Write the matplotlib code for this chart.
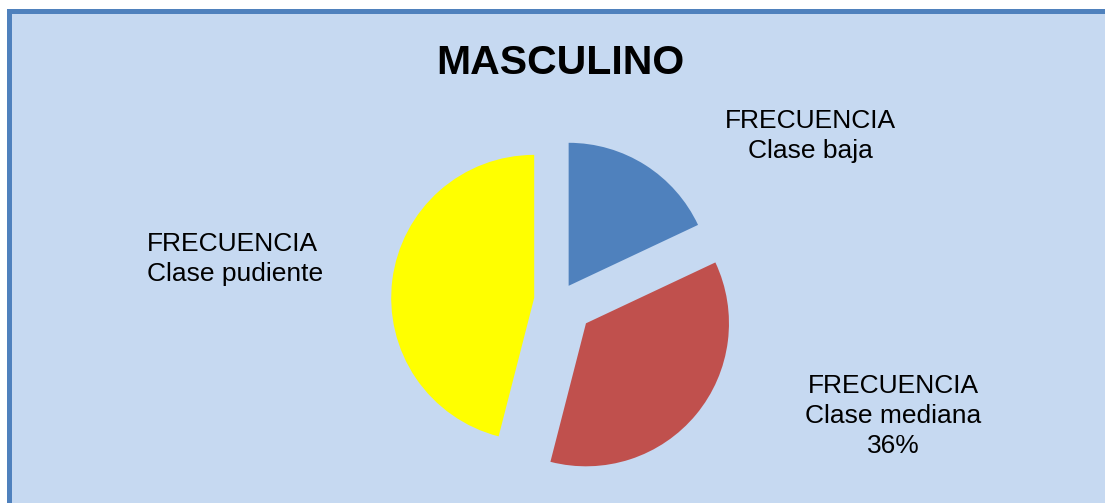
import matplotlib.pyplot as plt
from matplotlib.patches import Rectangle

# data
categories = ["Clase baja", "Clase mediana", "Clase pudiente"]
values = [18, 36, 46]
show_pct = [False, True, False]
colors = ["#4F81BD", "#C0504D", "#FFFF00"]
title = "MASCULINO"

W, H = 1105, 503
fig = plt.figure(figsize=(W / 100, H / 100), dpi=100)
fig.patch.set_facecolor("white")
ax = fig.add_axes([0, 0, 1, 1])
ax.set_xlim(0, W)
ax.set_ylim(0, H)
ax.set_aspect("equal")
ax.axis("off")

# chart area: light blue fill with a blue frame running off the right/bottom
ax.add_patch(Rectangle((8.5, -20), W + 40, H - 10.5 + 20, facecolor="#C6D9F1",
                       edgecolor="#4F81BD", linewidth=3.6, zorder=0))

ax.pie(values, colors=colors, startangle=90, counterclock=False,
       center=(559, 202), radius=143, explode=[18, 35, 25],
       wedgeprops=dict(linewidth=0))
ax.set_xlim(0, W)
ax.set_ylim(0, H)

ax.text(560, 440, title, ha="center", va="center", fontsize=29.5,
        fontweight="bold", family="Liberation Sans")

total = sum(values)
label_pos = [(810, 367, "center"), (893, 87, "center"), (147, 244, "left")]
for cat, v, pct, (x, y, ha) in zip(categories, values, show_pct, label_pos):
    txt = "FRECUENCIA\n" + cat
    if pct:
        txt += "\n%.0f%%" % (100 * v / total)
    ax.text(x, y, txt, ha=ha, va="center", multialignment=ha,
            fontsize=19, family="Liberation Sans", linespacing=1.3)

fig.savefig("out.png", dpi=100)
